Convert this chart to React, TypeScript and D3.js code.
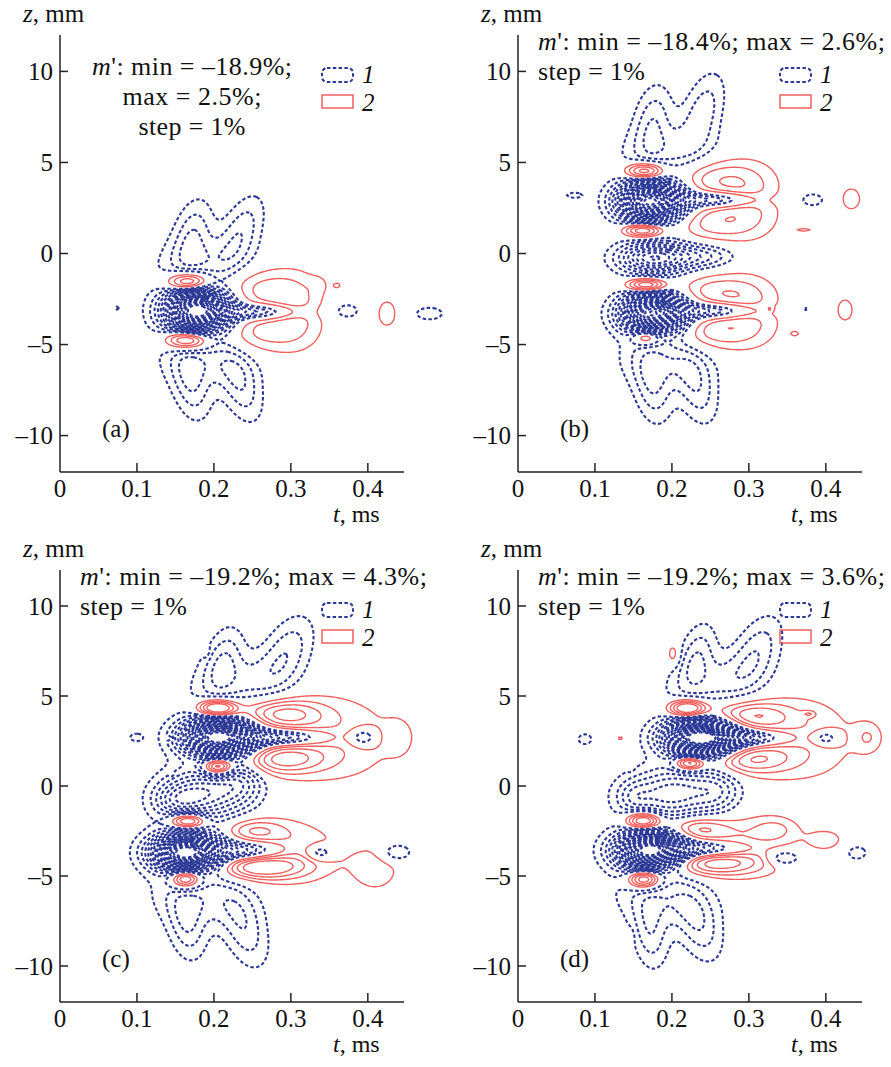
import React, { useMemo } from "react";
import * as d3 from "d3";

// blob = [t (ms), z (mm), width t, width z, amplitude (%), tilt dt/dz]
type Blob = number[];

const tTicks = [0, 0.1, 0.2, 0.3, 0.4];
const zTicks = [-10, -5, 0, 5, 10];
const blueLevels = [1, 2, 3, 4, 5, 6, 7, 8, 9, 10, 11, 12, 13, 14, 15, 16, 17, 18, 19];
const redLevels = [1, 2, 3, 4];

const blobsA: Blob[] = [
  [0.178, -3.15, 0.027, 0.75, -19.5, 0],
  [0.185, -3.1, 0.045, 2.2, -1.5, 0],
  // upper wing
  [0.195, -0.6, 0.045, 1.0, -1.8, 0],
  [0.172, 1.0, 0.017, 1.4, -2.6, 0.004],
  [0.235, 1.2, 0.018, 1.4, -2.6, 0.008],
  // lower wing
  [0.2, -5.8, 0.045, 1.0, -1.8, 0],
  [0.17, -7.2, 0.017, 1.4, -2.6, -0.004],
  [0.235, -7.3, 0.018, 1.4, -2.6, -0.006],
  // red next to core
  [0.167, -1.6, 0.02, 0.4, 7.4, 0],
  [0.165, -4.7, 0.02, 0.4, 7.4, 0],
  // red right + tongue
  [0.252, -1.9, 0.046, 0.9, 2.8, 0],
  [0.248, -4.4, 0.046, 0.9, 2.8, 0],
  [0.308, -3.2, 0.025, 1.3, 1.8, 0],
  [0.335, -1.7, 0.008, 0.3, 0.8, 0],
  [0.255, -3.2, 0.035, 0.28, -4.5, 0],
  // far right
  [0.372, -3.15, 0.016, 0.4, -1.5, 0],
  [0.425, -3.3, 0.012, 0.7, 1.5, 0],
  [0.48, -3.3, 0.018, 0.35, -1.5, 0],
  [0.36, -1.75, 0.004, 0.12, 1.2, 0],
  [0.074, -3.0, 0.003, 0.12, -1.2, 0],
];

const blobsB: Blob[] = [
  [0.171, 2.85, 0.027, 0.7, -18.4, 0],
  [0.175, -3.3, 0.027, 0.7, -18, 0],
  [0.185, 2.85, 0.035, 2.0, -1.5, 0],
  [0.185, -3.3, 0.035, 2.0, -1.5, 0],
  [0.175, -0.25, 0.03, 0.55, -8, 0],
  [0.24, -0.15, 0.03, 0.45, -3, 0],
  [0.165, 4.5, 0.018, 0.35, 7, 0],
  [0.163, 1.3, 0.018, 0.3, 7, 0],
  [0.167, -1.75, 0.018, 0.28, 7, 0],
  [0.167, -4.55, 0.013, 0.32, 6, 0],
  // upper wing
  [0.2, 5.6, 0.045, 1.0, -1.8, 0.004],
  [0.175, 7.3, 0.017, 1.4, -2.6, 0.003],
  [0.24, 7.8, 0.018, 1.5, -2.6, 0.006],
  // lower wing
  [0.195, -5.9, 0.045, 1.0, -1.8, -0.003],
  [0.175, -7.4, 0.017, 1.4, -2.6, -0.003],
  [0.232, -7.4, 0.018, 1.4, -2.6, -0.005],
  // red right upper
  [0.248, 4.1, 0.045, 0.8, 2.8, 0],
  [0.248, 1.7, 0.045, 0.75, 2.6, 0],
  [0.3, 3.0, 0.03, 1.4, 1.8, 0],
  [0.255, 2.95, 0.035, 0.28, -4.5, 0],
  // red right lower
  [0.248, -2.1, 0.045, 0.7, 2.6, 0],
  [0.243, -4.3, 0.045, 0.75, 2.8, 0],
  [0.3, -3.2, 0.03, 1.3, 1.8, 0],
  [0.255, -3.15, 0.035, 0.28, -4.5, 0],
  // far right / left
  [0.382, 2.95, 0.015, 0.35, -1.5, 0],
  [0.433, 3.0, 0.012, 0.6, 1.5, 0],
  [0.372, 1.3, 0.01, 0.1, 1.2, 0],
  [0.327, -3.05, 0.003, 0.1, 1.2, 0],
  [0.373, -3.05, 0.006, 0.15, -1.2, 0],
  [0.36, -4.4, 0.005, 0.12, 1.2, 0],
  [0.425, -3.1, 0.01, 0.6, 1.5, 0],
  [0.073, 3.2, 0.011, 0.16, -1.4, 0],
];

const blobsC: Blob[] = [
  [0.205, 2.7, 0.03, 0.65, -19, 0],
  [0.163, -3.7, 0.028, 0.65, -19.2, 0],
  [0.21, 2.7, 0.045, 2.0, -1.5, 0],
  [0.17, -3.7, 0.045, 2.0, -1.5, 0],
  // middle
  [0.185, -0.4, 0.035, 0.9, -6, 0],
  [0.15, -0.8, 0.02, 0.6, -3, 0],
  [0.235, 0.2, 0.02, 0.8, -3, 0],
  // red next to cores
  [0.204, 4.3, 0.018, 0.35, 8, 0],
  [0.205, 1.1, 0.014, 0.35, 7.5, 0],
  [0.166, -1.95, 0.017, 0.32, 7, 0],
  [0.163, -5.1, 0.014, 0.4, 7.5, 0],
  // upper wing
  [0.245, 5.9, 0.045, 1.0, -1.8, 0.006],
  [0.212, 7.0, 0.017, 1.3, -2.6, 0.005],
  [0.295, 7.5, 0.022, 1.4, -2.6, 0.008],
  // red right upper
  [0.285, 4.0, 0.04, 0.6, 4.4, 0],
  [0.285, 1.5, 0.04, 0.6, 4.4, 0],
  [0.36, 2.6, 0.06, 1.8, 1.8, 0],
  [0.285, 2.7, 0.04, 0.3, -5, 0],
  [0.394, 2.7, 0.012, 0.35, -3.2, 0],
  [0.44, 2.7, 0.013, 0.7, 1.2, 0],
  // lower wing
  [0.19, -6.4, 0.045, 1.0, -1.8, -0.004],
  [0.165, -7.8, 0.017, 1.35, -2.6, -0.003],
  [0.24, -8.0, 0.02, 1.5, -2.6, -0.006],
  // red right lower
  [0.25, -2.5, 0.03, 0.5, 3.2, 0],
  [0.255, -4.5, 0.04, 0.5, 5.2, 0],
  [0.31, -3.7, 0.04, 1.2, 1.9, 0],
  [0.24, -3.6, 0.035, 0.35, -4, 0],
  [0.338, -3.7, 0.012, 0.3, -3, 0],
  [0.41, -4.6, 0.025, 1.0, 1.6, 0],
  [0.437, -3.7, 0.014, 0.35, -2.5, 0],
  // small marks
  [0.19, 7.5, 0.003, 0.25, 1.2, 0],
  [0.143, 2.67, 0.003, 0.1, 1.2, 0],
  [0.145, 0.65, 0.002, 0.1, 1.1, 0],
  [0.082, -3.7, 0.003, 0.08, 1.1, 0],
  [0.099, 2.7, 0.008, 0.2, -1.5, 0],
];

const blobsD: Blob[] = [
  [0.236, 2.67, 0.03, 0.65, -19, 0],
  [0.171, -3.6, 0.028, 0.65, -19.2, 0],
  [0.24, 2.67, 0.045, 2.0, -1.5, 0],
  [0.175, -3.6, 0.045, 2.0, -1.5, 0],
  // middle
  [0.2, -0.4, 0.04, 0.9, -5, 0],
  [0.15, -0.6, 0.015, 0.6, -2, 0],
  [0.26, -0.3, 0.02, 0.8, -2.5, 0],
  // red next to cores
  [0.22, 4.3, 0.017, 0.35, 7.5, 0],
  [0.223, 1.3, 0.014, 0.3, 7, 0],
  [0.163, -1.95, 0.016, 0.35, 7.5, 0],
  [0.164, -5.15, 0.015, 0.38, 7.5, 0],
  // upper wing
  [0.265, 5.9, 0.045, 1.0, -1.8, 0.008],
  [0.232, 7.2, 0.016, 1.3, -2.6, 0.005],
  [0.31, 7.5, 0.021, 1.4, -2.6, 0.008],
  // lower wing
  [0.195, -6.4, 0.045, 1.0, -1.8, -0.004],
  [0.172, -8.2, 0.016, 1.4, -2.6, -0.002],
  [0.235, -7.8, 0.02, 1.4, -2.6, -0.006],
  // red right upper
  [0.295, 3.9, 0.04, 0.6, 4.2, 0],
  [0.295, 1.5, 0.04, 0.6, 4.2, 0],
  [0.37, 2.6, 0.055, 1.8, 1.8, 0],
  [0.29, 2.67, 0.04, 0.3, -5, 0],
  [0.4, 2.67, 0.012, 0.3, -3, 0],
  [0.378, 4.0, 0.006, 0.12, 1.5, 0],
  [0.455, 2.7, 0.013, 0.6, 1.6, 0],
  // red right lower
  [0.23, -2.4, 0.03, 0.5, 3.8, 0],
  [0.245, -4.3, 0.045, 0.5, 4.6, 0],
  [0.3, -3.3, 0.04, 1.2, 1.9, 0],
  [0.245, -3.5, 0.04, 0.3, -4, 0],
  [0.335, -2.4, 0.02, 0.45, 1.6, 0],
  [0.345, -4.0, 0.015, 0.3, -3, 0],
  [0.4, -3.0, 0.02, 0.5, 1.4, 0],
  [0.44, -3.7, 0.012, 0.35, -1.6, 0],
  // small marks
  [0.202, 7.3, 0.006, 0.45, 2, 0],
  [0.134, 2.65, 0.01, 0.12, 1.3, 0],
  [0.147, 1.4, 0.003, 0.35, 1.3, 0],
  [0.087, 2.6, 0.009, 0.3, -1.5, 0],
  [0.146, -8.4, 0.003, 0.3, 1.3, 0],
];

const statsA = ["min = –18.9%;", "max = 2.5%;", "step = 1%"];
const statsB = ["min = –18.4%; max = 2.6%;", "step = 1%"];
const statsC = ["min = –19.2%; max = 4.3%;", "step = 1%"];
const statsD = ["min = –19.2%; max = 3.6%;", "step = 1%"];
const statsWidthA = [200, 139, 107];
const statsWidthWide = [347, 107];

const W = 891;
const H = 1067;
const BLUE = "#2b3896";
const RED = "#f0605e";
const FONT = "'Liberation Serif', 'Times New Roman', serif";

const T0 = 0, T1 = 0.52, NX = 261;
const Z0 = -12, Z1 = 12, NZ = 241;

function computeField(blobs: Blob[]) {
  const dt = (T1 - T0) / (NX - 1);
  const dz = (Z1 - Z0) / (NZ - 1);
  const vals = new Float64Array(NX * NZ);
  for (let j = 0; j < NZ; j++) {
    const z = Z0 + j * dz;
    for (let i = 0; i < NX; i++) {
      const t = T0 + i * dt;
      let v = 0;
      for (const [tb, zb, st, sz, a, tilt] of blobs) {
        const tc = tb + (tilt || 0) * (z - zb);
        const u = (t - tc) / st;
        const w = (z - zb) / sz;
        const e = (u * u + w * w) / 2;
        if (e < 25) v += a * Math.exp(-e);
      }
      vals[j * NX + i] = v;
    }
  }
  return vals;
}

const Panel = ({ x0, yTop, yBot, blobs, tag, stats, widths, centered }: any) => {
  const x = d3.scaleLinear().domain([0, 0.447]).range([x0, x0 + 344]);
  const y = d3.scaleLinear().domain([-12, 12]).range([yBot, yTop]);

  const { blue, red } = useMemo(() => {
    const vals = computeField(blobs);
    const neg = Array.from(vals, (v) => -v);
    const pos = Array.from(vals);
    const dt = (T1 - T0) / (NX - 1);
    const dz = (Z1 - Z0) / (NZ - 1);
    const proj = d3.geoTransform({
      point: function (px: number, py: number) {
        (this as any).stream.point(x(T0 + (px - 0.5) * dt), y(Z0 + (py - 0.5) * dz));
      },
    });
    const path = d3.geoPath(proj);
    const gen = d3.contours().size([NX, NZ]);
    const blue = gen.thresholds(blueLevels)(neg).map((c) => path(c as any) || "");
    const red = gen.thresholds(redLevels)(pos).map((c) => path(c as any) || "");
    return { blue, red };
  }, [blobs, x0, yTop, yBot]);

  const xEnd = x.range()[1];
  const lx = x0 + 262;
  const lineH = 30;
  return (
    <g fontFamily={FONT} fill="#111">
      {blue.map((d, i) => (
        <path key={"b" + i} d={d} fill="none" stroke={BLUE} strokeWidth={2.1} strokeDasharray="3.5 2.3" />
      ))}
      {red.map((d, i) => (
        <path key={"r" + i} d={d} fill="none" stroke={RED} strokeWidth={1.4} />
      ))}
      {/* axes */}
      <line x1={x0} x2={xEnd} y1={yBot} y2={yBot} stroke="#222" strokeWidth={1.5} />
      <line x1={x0} x2={x0} y1={yBot} y2={yTop} stroke="#222" strokeWidth={1.5} />
      {tTicks.map((t) => (
        <g key={"t" + t}>
          {t > 0 && <line x1={x(t)} x2={x(t)} y1={yBot} y2={yBot - 9} stroke="#222" strokeWidth={1.5} />}
          <text x={x(t)} y={yBot + 25} fontSize={25} textAnchor="middle">
            {t === 0 ? "0" : t.toFixed(1)}
          </text>
        </g>
      ))}
      {zTicks.map((z) => (
        <g key={"z" + z}>
          <line x1={x0} x2={x0 + 8} y1={y(z)} y2={y(z)} stroke="#222" strokeWidth={1.5} />
          <text x={x0 - 7} y={y(z) + 8.5} fontSize={25} textAnchor="end">
            {z < 0 ? "–" + Math.abs(z) : z}
          </text>
        </g>
      ))}
      <text x={x0 - 37} y={yTop - 13} fontSize={25}>
        <tspan fontStyle="italic">z</tspan>, mm
      </text>
      <text x={x0 + 273} y={yBot + 50} fontSize={24}>
        <tspan fontStyle="italic">t</tspan>, ms
      </text>
      <text x={x0 + 42} y={yBot - 35} fontSize={25}>
        ({tag})
      </text>
      {/* stats */}
      {stats.map((s: string, i: number) => (
        <text
          key={i}
          x={centered ? x0 + 132 - widths[i] / 2 : x0 + 20}
          y={centered ? yTop + 40 + i * lineH : yTop + 15 + i * lineH}
          fontSize={26}
          textLength={widths[i]}
          lengthAdjust="spacing"
        >
          {i === 0 && <tspan fontStyle="italic">m</tspan>}
          {i === 0 ? "': " + s : s}
        </text>
      ))}
      {/* legend */}
      <rect x={lx} y={yTop + 33} width={31} height={14} rx={5} fill="none" stroke={BLUE} strokeWidth={2} strokeDasharray="3.5 2.3" />
      <rect x={lx} y={yTop + 60} width={31} height={13} fill="none" stroke={RED} strokeWidth={1.5} />
      <text x={lx + 40} y={yTop + 48} fontSize={25} fontStyle="italic">1</text>
      <text x={lx + 40} y={yTop + 76} fontSize={25} fontStyle="italic">2</text>
    </g>
  );
};

export default function App() {
  return (
    <svg width={W} height={H} style={{ position: "absolute", left: 0, top: 0, background: "#fff" }}>
      <rect width={W} height={H} fill="#fff" />
      <Panel x0={60} yTop={35} yBot={472} blobs={blobsA} tag="a" stats={statsA} widths={statsWidthA} centered />
      <Panel x0={518} yTop={35} yBot={472} blobs={blobsB} tag="b" stats={statsB} widths={statsWidthWide} />
      <Panel x0={60} yTop={570} yBot={1002} blobs={blobsC} tag="c" stats={statsC} widths={statsWidthWide} />
      <Panel x0={518} yTop={570} yBot={1002} blobs={blobsD} tag="d" stats={statsD} widths={statsWidthWide} />
    </svg>
  );
}
